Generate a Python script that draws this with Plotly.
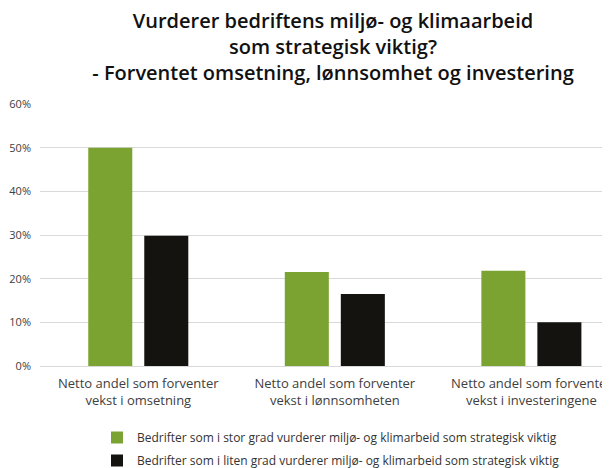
import plotly.graph_objects as go

categories = ["Netto andel som forventer<br>vekst i omsetning",
              "Netto andel som forventer<br>vekst i lønnsomheten",
              "Netto andel som forventer<br>vekst i investeringene"]
series_names = ["Bedrifter som i stor grad vurderer miljø- og klimarbeid som strategisk viktig",
                "Bedrifter som i liten grad vurderer miljø- og klimarbeid som strategisk viktig"]
stor_grad = [50, 21.5, 21.8]
liten_grad = [29.8, 16.5, 10]
y_ticks = [0, 10, 20, 30, 40, 50, 60]
y_tick_labels = ["0%", "10%", "20%", "30%", "40%", "50%", "60%"]

colors = ["#7ba331", "#15130f"]

fig = go.Figure()
for name, vals, col, grp in zip(series_names, [stor_grad, liten_grad], colors, ["a", "b"]):
    fig.add_trace(go.Bar(x=categories, y=vals, name=name, marker_color=col,
                         marker_line_width=0, legendgroup=grp))

# the page body adds an 8px offset, so the figure is 602x460
W, H = 602, 460
fig.update_layout(
    width=W, height=H,
    margin=dict(l=32, r=0, t=96, b=102, autoexpand=False),
    paper_bgcolor="white", plot_bgcolor="white",
    barmode="group", bargap=0.43, bargroupgap=0.214,
    font=dict(family="Open Sans, sans-serif", color="#404040"),
    title=dict(
        text="Vurderer bedriftens miljø- og klimaarbeid<br>som strategisk viktig?<br>- Forventet omsetning, lønnsomhet og investering",
        x=325/W, xref="container", xanchor="center",
        y=1 - 20/H, yref="container", yanchor="top",
        font=dict(family="Open Sans, sans-serif", size=20, color="#111111", weight=600),
    ),
    showlegend=True,
    legend=dict(
        orientation="v", x=0.1, xanchor="left",
        y=-57/262, yanchor="top",
        font=dict(size=12, color="#333333"),
        tracegroupgap=4, itemwidth=30,
        bgcolor="rgba(0,0,0,0)",
    ),
)
fig.update_xaxes(range=[-0.5, 2.40], showgrid=False, showline=False, ticks="",
                 tickfont=dict(size=13, color="#404040"), fixedrange=True,
                 ticklabelstandoff=8, automargin=False)
fig.update_yaxes(range=[0, 60], tickvals=y_ticks, ticktext=y_tick_labels,
                 showgrid=True, gridcolor="#d9d9d9", gridwidth=1,
                 zeroline=True, zerolinecolor="#d9d9d9", zerolinewidth=1,
                 showline=False, ticks="", ticklabelstandoff=8, automargin=False,
                 tickfont=dict(size=11, color="#404040"))

fig.write_html("out.html")
